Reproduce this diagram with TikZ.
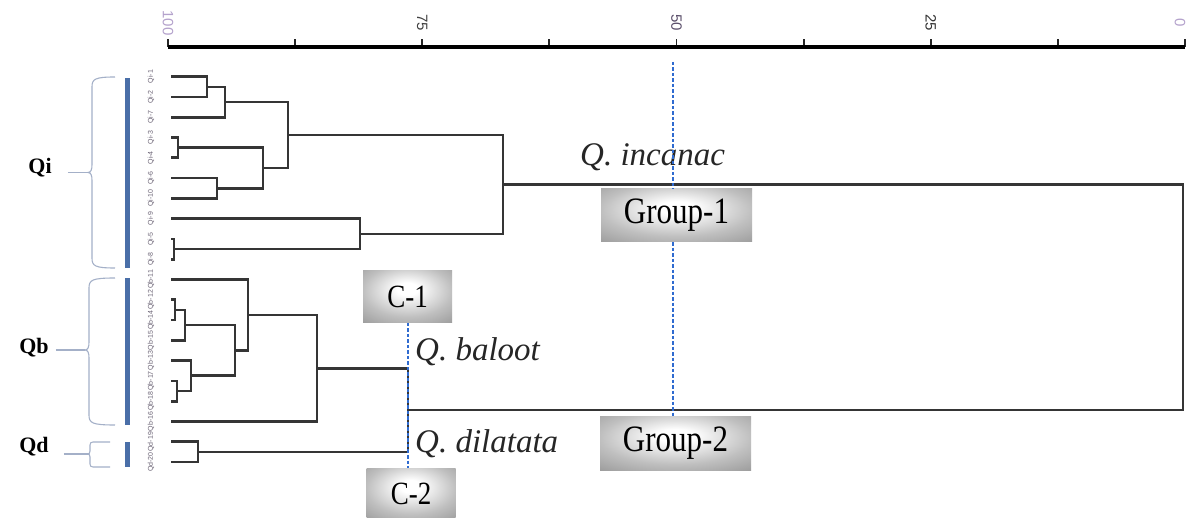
\documentclass[tikz,border=0pt]{standalone}
\usepackage{fontspec}
\setmainfont{Liberation Serif}
\newfontfamily\lblfont{Liberation Sans}
\usetikzlibrary{calc}
\definecolor{dend}{HTML}{353535}
\definecolor{barc}{HTML}{4A6FA8}
\definecolor{bracec}{HTML}{A4B0C8}
\definecolor{dashb}{HTML}{2F6BD0}
\definecolor{leafc}{HTML}{6A6274}
\definecolor{lilac}{HTML}{B4A2CC}
\definecolor{purpdark}{HTML}{5A4E6A}
\pgfdeclareradialshading{boxshade}{\pgfpoint{0bp}{8bp}}{color(0bp)=(white); color(6bp)=(white); color(25bp)=(black!25); color(50bp)=(black!50); color(75bp)=(black!60)}
\newcommand\drawbrace[5]{%
  \coordinate (#5) at (#1-4,#4);
  \draw[brc] (115,#2) .. controls (#1+3,#2) and (#1,#2+2) .. (#1,#2+10) -- (#1,#4-8)
    .. controls (#1,#4-3) and (#1-1,#4) .. (#5)
    .. controls (#1-1,#4) and (#1,#4+3) .. (#1,#4+8) -- (#1,#3-10)
    .. controls (#1,#3-2) and (#1+3,#3) .. (115,#3);}
\begin{document}
\begin{tikzpicture}[x=1pt,y=-1pt,
  dendl/.style={draw=dend,line width=2.7pt,line cap=rect},
  axisl/.style={draw=black,line width=3.2pt},
  tickl/.style={draw=black!85,line width=1.8pt},
  axlbl/.style={font=\lblfont\fontsize{15}{15}\selectfont,rotate=-90,inner sep=0pt},
  leaflbl/.style={font=\lblfont\fontsize{7}{7}\selectfont,text=leafc,rotate=90,inner sep=0pt},
  brc/.style={draw=bracec,line width=1.1pt},
  grplbl/.style={font=\bfseries\fontsize{22}{22}\selectfont,inner sep=0pt},
  qlab/.style={font=\itshape\fontsize{33}{33}\selectfont,text=black!85,inner sep=0pt},
  gbox/.style={shading=boxshade,minimum width=151pt,minimum height=53pt,inner sep=0pt,font=\fontsize{31}{31}\selectfont},
  cbox/.style={shading=boxshade,minimum width=89pt,minimum height=52pt,inner sep=0pt,font=\fontsize{27}{27}\selectfont},
  dashl/.style={draw=dashb,line width=1.3pt,dash pattern=on 3.5pt off 2pt}]
\useasboundingbox (0,0) rectangle (1189,518);
\fill[white] (0,0) rectangle (1189,518);

% axis
\coordinate (ax0) at (168,47);
\coordinate (ax1) at (1185,47);
\foreach \k in {0,...,8}{\draw[tickl] ($(ax0)!\k/8!(ax1)$) -- ++(0,-8);}
\draw[axisl] (ax0) -- (ax1);
\node[axlbl,text=lilac] (a100) at (168,23) {100};
\node[axlbl,text=black!75] (a75) at ($(ax0)!0.25!(ax1)+(0,-24)$) {75};
\node[axlbl,text=purpdark] (a50) at ($(ax0)!0.5!(ax1)+(0,-24)$) {50};
\node[axlbl,text=black!80] (a25) at ($(ax0)!0.75!(ax1)+(0,-24)$) {25};
\node[axlbl,text=lilac] (a0) at (1180,23) {0};

% leaves
\foreach \i/\y/\t in {1/76.7/Qi-1,2/97.0/Qi-2,3/117.3/Qi-7,4/137.5/Qi-3,5/157.8/Qi-4,6/178.1/Qi-6,7/198.4/Qi-10,8/218.7/Qi-9,9/238.9/Qi-5,10/259.2/Qi-8,11/279.5/Qb-11,12/299.8/Qb-12,13/320.1/Qb-14,14/340.3/Qb-15,15/360.6/Qb-13,16/380.9/Qb-17,17/401.2/Qb-18,18/421.5/Qb-16,19/441.8/Qd-19,20/462.0/Qd-20}{
  \coordinate (L\i) at (172,\y);
  \node[leaflbl] (T\i) at (151,\y) {\t};
}

% joints
\coordinate (ja) at (207,86.9);
\coordinate (jb) at (225,102.1);
\coordinate (jc) at (178,147.7);
\coordinate (jd) at (217,188.3);
\coordinate (je) at (263,168.0);
\coordinate (jf) at (288,135.0);
\coordinate (jg) at (174,249.0);
\coordinate (jh) at (360,233.9);
\coordinate (qi) at (503,184.4);
\coordinate (qa) at (175,310.0);
\coordinate (qb) at (185,325.1);
\coordinate (qc) at (177,391.0);
\coordinate (qd) at (191,375.8);
\coordinate (qe) at (235,350.5);
\coordinate (qf) at (248,315.0);
\coordinate (qg) at (317,368.2);
\coordinate (da) at (198,451.9);
\coordinate (cj) at (408,410.0);
\coordinate (root) at (1183,297.0);

\draw[dendl] (L1) -| (ja) |- (L2);
\draw[dendl] (ja) -| (jb) |- (L3);
\draw[dendl] (L4) -| (jc) |- (L5);
\draw[dendl] (L6) -| (jd) |- (L7);
\draw[dendl] (jc) -| (je) |- (jd);
\draw[dendl] (jb) -| (jf) |- (je);
\draw[dendl] (L9) -| (jg) |- (L10);
\draw[dendl] (L8) -| (jh) |- (jg);
\draw[dendl] (jf) -| (qi) |- (jh);
\draw[dendl] (L12) -| (qa) |- (L13);
\draw[dendl] (qa) -| (qb) |- (L14);
\draw[dendl] (L16) -| (qc) |- (L17);
\draw[dendl] (L15) -| (qd) |- (qc);
\draw[dendl] (qb) -| (qe) |- (qd);
\draw[dendl] (L11) -| (qf) |- (qe);
\draw[dendl] (qf) -| (qg) |- (L18);
\draw[dendl] (L19) -| (da) |- (L20);
\draw[dendl] (qg) -| (cj) |- (da);
\draw[dendl] (qi) -| (root) |- (cj);

% species labels
\node[qlab,anchor=base west] (qinc) at (580,166) {Q. incanac};
\node[qlab,anchor=base west] (qbal) at (415,361) {Q. baloot};
\node[qlab,anchor=base west] (qdil) at (415,453) {Q. dilatata};

% boxes
\node[gbox] (G1) at (676.5,215.5) {\scalebox{1}[1.2]{Group-1}};
\node[gbox] (G2) at (675.5,443.5) {\scalebox{1}[1.2]{Group-2}};
\node[cbox] (C1) at (407.5,296.5) {\scalebox{1}[1.2]{C-1}};
\node[cbox] (C2) at (411,494) {\scalebox{1}[1.2]{C-2}};

% dashed cut lines
\coordinate (gtop) at (673,62);
\draw[dashl] (gtop) -- (gtop |- G1.north);
\draw[dashl] (gtop |- G1.south) -- (gtop |- G2.north);
\coordinate (ctop) at (408,323);
\draw[dashl] (ctop) -- (ctop |- C2.north);

% group brackets and bars
\fill[barc] (125,78) rectangle (130,268);
\fill[barc] (125,278) rectangle (130,425);
\fill[barc] (125,442) rectangle (130,467);

\drawbrace{92}{77}{268}{172.5}{QiTip}
\drawbrace{89}{278}{425}{350}{QbTip}
\coordinate (QdTip) at (88,454);
\draw[brc] (110,442) -- (93,442) .. controls (91,442) and (90,443) .. (90,445) -- (90,451)
  .. controls (90,453) and (89,454) .. (QdTip) .. controls (89,454) and (90,455) .. (90,457)
  -- (90,464) .. controls (90,466) and (91,467) .. (93,467) -- (110,467);

\node[grplbl] (Qi) at (40,168) {Qi};
\node[grplbl] (Qb) at (34,348) {Qb};
\node[grplbl] (Qd) at (34,447) {Qd};
\draw[brc] (Qi.east |- QiTip) ++(16,0) coordinate (QiS) -- (QiTip);
\draw[brc] (Qb.east |- QbTip) ++(7,0) coordinate (QbS) -- (QbTip);
\draw[brc] (Qd.east |- QdTip) ++(15,0) coordinate (QdS) -- (QdTip);
\end{tikzpicture}
\end{document}
